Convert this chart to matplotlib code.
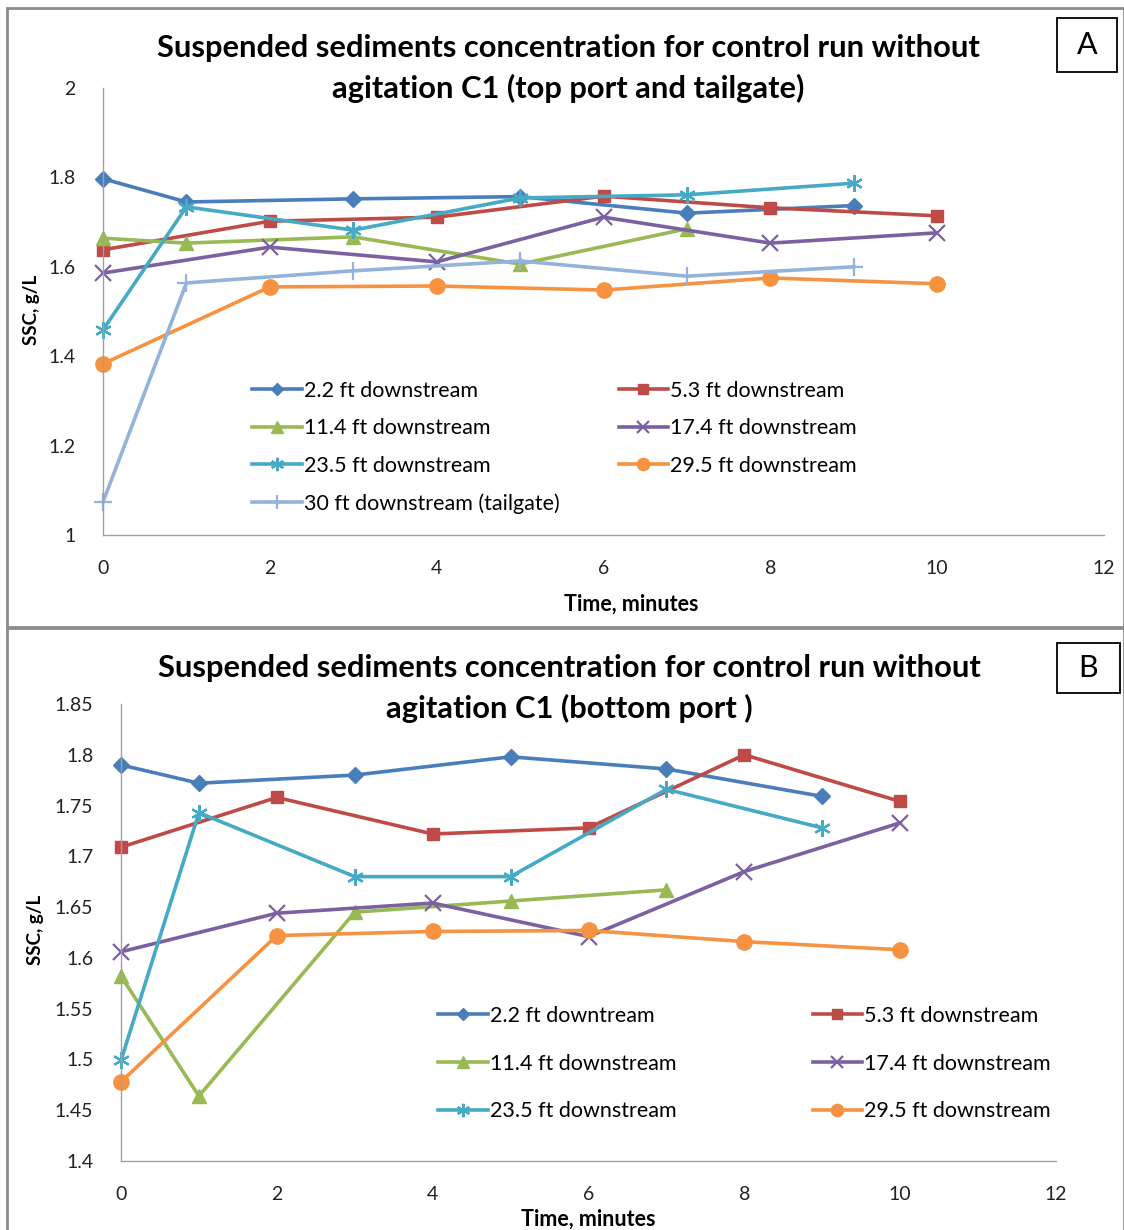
import numpy as np
import matplotlib
matplotlib.use('Agg')
import matplotlib.pyplot as plt
from matplotlib.patches import Rectangle

plt.rcParams['font.family'] = ['Lato', 'DejaVu Sans']

# ---- data, panel A (top port and tailgate) ----
labels_a = ['2.2 ft downstream', '5.3 ft downstream', '11.4 ft downstream',
            '17.4 ft downstream', '23.5 ft downstream', '29.5 ft downstream',
            '30 ft downstream (tailgate)']
t_odd = [0, 1, 3, 5, 7, 9]
t_even = [0, 2, 4, 6, 8, 10]
t_green = [0, 1, 3, 5, 7]

a_22 = [1.797, 1.745, 1.752, 1.757, 1.720, 1.737]
a_53 = [1.638, 1.702, 1.711, 1.758, 1.732, 1.714]
a_114 = [1.664, 1.653, 1.667, 1.606, 1.685]
a_174 = [1.586, 1.644, 1.611, 1.711, 1.653, 1.676]
a_235 = [1.459, 1.734, 1.682, 1.754, 1.761, 1.787]
a_295 = [1.383, 1.555, 1.557, 1.548, 1.575, 1.562]
a_30 = [1.074, 1.564, 1.591, 1.613, 1.579, 1.600]

# ---- data, panel B (bottom port) ----
labels_b = ['2.2 ft downtream', '5.3 ft downstream', '11.4 ft downstream',
            '17.4 ft downstream', '23.5 ft downstream', '29.5 ft downstream']
b_22 = [1.790, 1.772, 1.780, 1.798, 1.786, 1.759]
b_53 = [1.709, 1.758, 1.722, 1.728, 1.800, 1.754]
b_114 = [1.582, 1.464, 1.645, 1.656, 1.667]
b_174 = [1.606, 1.644, 1.654, 1.621, 1.685, 1.733]
b_235 = [1.499, 1.743, 1.680, 1.680, 1.766, 1.728]
b_295 = [1.478, 1.622, 1.626, 1.627, 1.616, 1.608]

colors = ['#4A7EBB', '#BE4B48', '#98B954', '#7D60A0', '#46AAC5', '#F69240', '#94B3DA']
markers = ['D', 's', '^', 'x', (6, 2, 0), 'o', '+']
msizes = [8, 9, 10, 11, 12, 11, 13]

series_a = [(t_odd, a_22), (t_even, a_53), (t_green, a_114), (t_even, a_174),
            (t_odd, a_235), (t_even, a_295), (t_odd, a_30)]
series_b = [(t_odd, b_22), (t_even, b_53), (t_green, b_114), (t_even, b_174),
            (t_odd, b_235), (t_even, b_295)]

W, H = 1124, 1230
fig = plt.figure(figsize=(W / 100, H / 100), dpi=100)


def fx(px):
    return px / W


def fy(py):
    return 1 - py / H


def draw_panel(ax, series, labels, ylim, yticks, yfmt):
    lines = []
    for i, (t, v) in enumerate(series):
        ln, = ax.plot(t, v, color=colors[i], marker=markers[i], markersize=msizes[i],
                      markeredgewidth=1.6 if i in (3, 4, 6) else 1.0,
                      markeredgecolor=colors[i], linewidth=2.6, label=labels[i],
                      clip_on=False)
        lines.append(ln)
    ax.set_xlim(0, 12)
    ax.set_ylim(*ylim)
    ax.set_xticks(range(0, 13, 2))
    ax.set_yticks(yticks)
    ax.set_yticklabels([yfmt(y) for y in yticks])
    for s in ['top', 'right']:
        ax.spines[s].set_visible(False)
    for s in ['left', 'bottom']:
        ax.spines[s].set_color('#A0A0A0')
        ax.spines[s].set_linewidth(1.0)
    ax.tick_params(length=0, labelsize=14, colors='#222222')
    ax.tick_params(axis='x', pad=18)
    ax.tick_params(axis='y', pad=20)
    return lines


def label_box(x0, y0, x1, y1, letter):
    fig.add_artist(Rectangle((fx(x0), fy(y1)), fx(x1) - fx(x0), fy(y0) - fy(y1),
                             transform=fig.transFigure, facecolor='white',
                             edgecolor='black', linewidth=1.3))
    fig.text(fx((x0 + x1) / 2), fy((y0 + y1) / 2), letter, ha='center', va='center',
             fontsize=22)


# panel frames
fig.add_artist(Rectangle((fx(7), fy(627)), fx(1124) - fx(7), fy(8) - fy(627),
                         transform=fig.transFigure, fill=False, edgecolor='#8C8C8C', linewidth=2))
fig.add_artist(Rectangle((fx(7), fy(1232)), fx(1124) - fx(7), fy(628) - fy(1232),
                         transform=fig.transFigure, fill=False, edgecolor='#8C8C8C', linewidth=2))

# ---- panel A ----
ax1 = fig.add_axes([fx(103), fy(535), fx(1104) - fx(103), fy(88) - fy(535)])
lines_a = draw_panel(ax1, series_a, labels_a, (1, 2), [1, 1.2, 1.4, 1.6, 1.8, 2],
                     lambda y: '%g' % y)
order = [0, 2, 4, 6, 1, 3, 5]
ax1.legend([lines_a[i] for i in order], [labels_a[i] for i in order], ncol=2,
           loc='upper left', bbox_to_anchor=(fx(252), fy(381)), bbox_transform=fig.transFigure,
           frameon=False, fontsize=15.5, handlelength=2.3, handletextpad=0.1,
           columnspacing=2.75, labelspacing=0.81, borderaxespad=0, borderpad=0,
           markerscale=0.8)
fig.text(fx(568), fy(48), 'Suspended sediments concentration for control run without',
         ha='center', va='center', fontsize=22.2, fontweight='bold')
fig.text(fx(568), fy(88), 'agitation C1 (top port and tailgate)',
         ha='center', va='center', fontsize=22.2, fontweight='bold')
fig.text(fx(32), fy(310), 'SSC, g/L', rotation=90, ha='center', va='center',
         fontsize=13.5, fontweight='bold')
fig.text(fx(631), fy(604), 'Time, minutes', ha='center', va='center',
         fontsize=15.5, fontweight='bold')
label_box(1057, 18, 1117, 72, 'A')

# ---- panel B ----
ax2 = fig.add_axes([fx(121), fy(1161), fx(1056) - fx(121), fy(704) - fy(1161)])
lines_b = draw_panel(ax2, series_b, labels_b, (1.4, 1.85),
                     [1.4, 1.45, 1.5, 1.55, 1.6, 1.65, 1.7, 1.75, 1.8, 1.85],
                     lambda y: '%g' % round(y, 2))
order = [0, 2, 4, 1, 3, 5]
ax2.legend([lines_b[i] for i in order], [labels_b[i] for i in order], ncol=2,
           loc='upper left', bbox_to_anchor=(fx(438), fy(1006)), bbox_transform=fig.transFigure,
           frameon=False, fontsize=15.5, handlelength=2.3, handletextpad=0.1,
           columnspacing=6.33, labelspacing=1.28, borderaxespad=0, borderpad=0,
           markerscale=0.8)
fig.text(fx(569), fy(668), 'Suspended sediments concentration for control run without',
         ha='center', va='center', fontsize=22.2, fontweight='bold')
fig.text(fx(569), fy(708), 'agitation C1 (bottom port )',
         ha='center', va='center', fontsize=22.2, fontweight='bold')
fig.text(fx(35), fy(930), 'SSC, g/L', rotation=90, ha='center', va='center',
         fontsize=13.5, fontweight='bold')
fig.text(fx(588), fy(1219), 'Time, minutes', ha='center', va='center',
         fontsize=15.5, fontweight='bold')
label_box(1057, 643, 1120, 693, 'B')

fig.savefig('out.png', dpi=100)
